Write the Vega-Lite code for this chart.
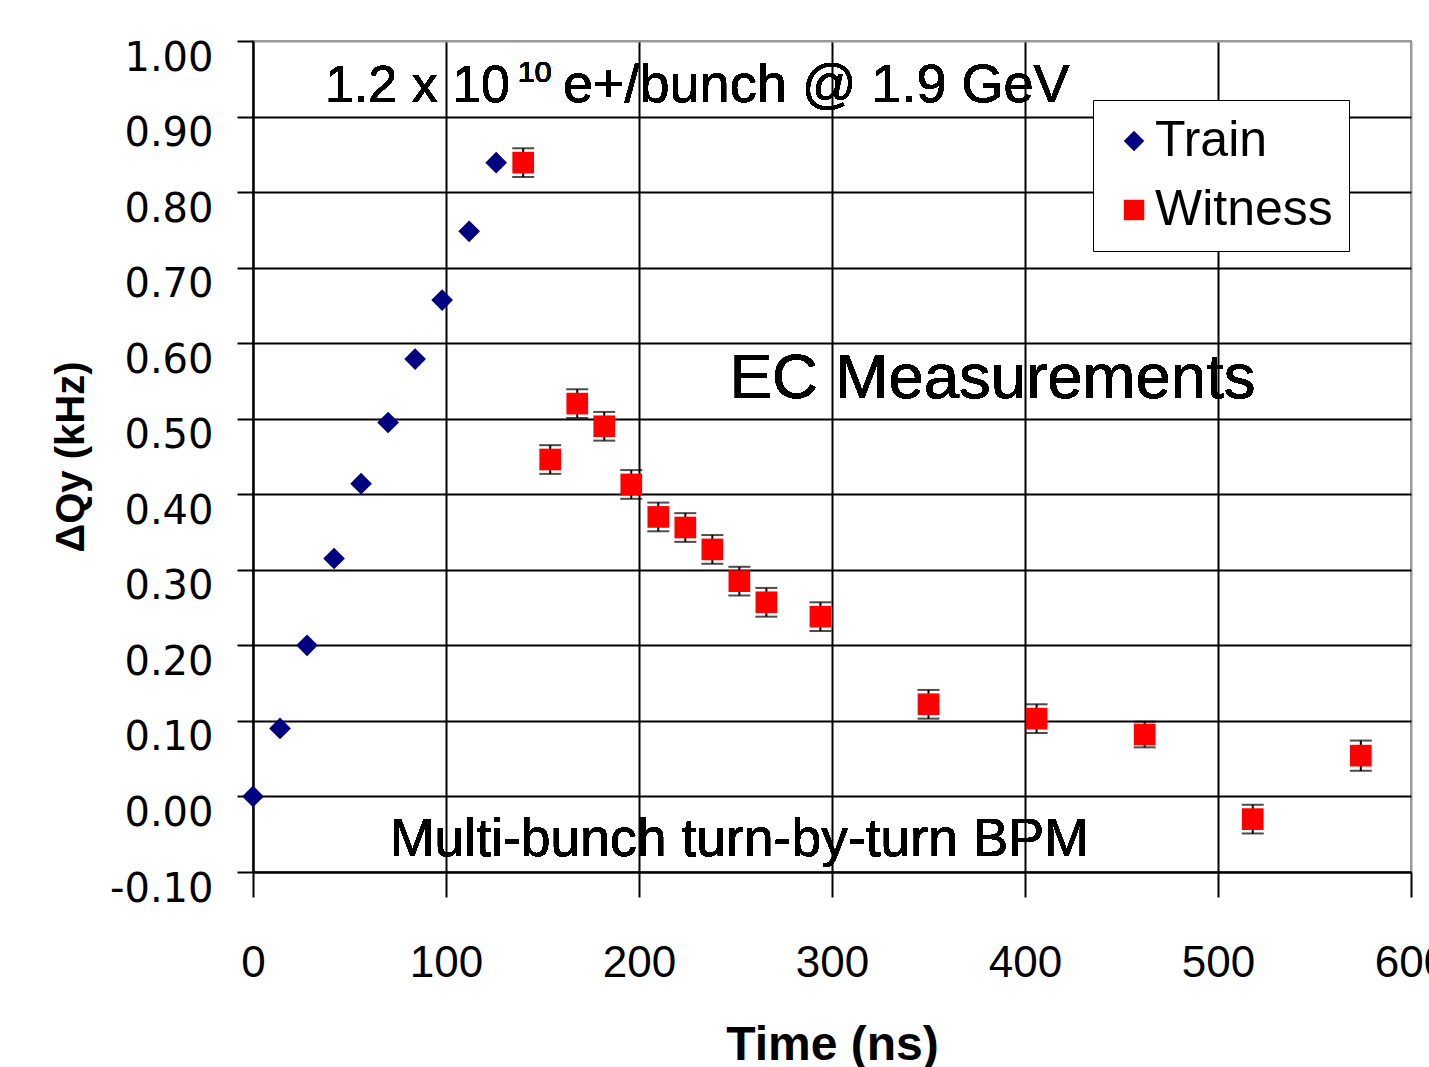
{
  "$schema": "https://vega.github.io/schema/vega-lite/v6.json",
  "width": 1158,
  "height": 831,
  "autosize": {"type": "none"},
  "padding": {"left": 253, "top": 41, "right": 18, "bottom": 195},
  "background": "white",
  "config": {
    "view": {"stroke": "#999999", "strokeWidth": 2},
    "font": "Liberation Sans"
  },
  "data": {
    "values": [
      {"series": "Train", "t": 0, "v": 0.000, "err": 0},
      {"series": "Train", "t": 14, "v": 0.090, "err": 0},
      {"series": "Train", "t": 28, "v": 0.200, "err": 0},
      {"series": "Train", "t": 42, "v": 0.315, "err": 0},
      {"series": "Train", "t": 56, "v": 0.414, "err": 0},
      {"series": "Train", "t": 70, "v": 0.495, "err": 0},
      {"series": "Train", "t": 84, "v": 0.579, "err": 0},
      {"series": "Train", "t": 98, "v": 0.657, "err": 0},
      {"series": "Train", "t": 112, "v": 0.748, "err": 0},
      {"series": "Train", "t": 126, "v": 0.839, "err": 0},
      {"series": "Witness", "t": 140, "v": 0.839, "err": 0.019},
      {"series": "Witness", "t": 154, "v": 0.446, "err": 0.019},
      {"series": "Witness", "t": 168, "v": 0.520, "err": 0.019},
      {"series": "Witness", "t": 182, "v": 0.490, "err": 0.019},
      {"series": "Witness", "t": 196, "v": 0.413, "err": 0.019},
      {"series": "Witness", "t": 210, "v": 0.370, "err": 0.019},
      {"series": "Witness", "t": 224, "v": 0.356, "err": 0.019},
      {"series": "Witness", "t": 238, "v": 0.327, "err": 0.019},
      {"series": "Witness", "t": 252, "v": 0.285, "err": 0.019},
      {"series": "Witness", "t": 266, "v": 0.257, "err": 0.019},
      {"series": "Witness", "t": 294, "v": 0.238, "err": 0.019},
      {"series": "Witness", "t": 350, "v": 0.122, "err": 0.019},
      {"series": "Witness", "t": 406, "v": 0.103, "err": 0.019},
      {"series": "Witness", "t": 462, "v": 0.082, "err": 0.017},
      {"series": "Witness", "t": 518, "v": -0.030, "err": 0.019},
      {"series": "Witness", "t": 574, "v": 0.054, "err": 0.020}
    ]
  },
  "layer": [
    {
      "transform": [{"filter": "datum.series == 'Witness'"}],
      "mark": {
        "type": "errorbar",
        "ticks": {"size": 22, "thickness": 2, "color": "black"},
        "rule": {"strokeWidth": 2, "color": "black"}
      },
      "encoding": {
        "x": {"field": "t", "type": "quantitative", "title": "Time (ns)"},
        "y": {"field": "v", "type": "quantitative", "title": "ΔQy (kHz)"},
        "yError": {"field": "err"}
      }
    },
    {
      "mark": {"type": "point", "filled": true, "opacity": 1, "size": 470},
      "encoding": {
        "x": {
          "field": "t",
          "type": "quantitative",
          "scale": {"domain": [0, 600], "nice": false, "zero": false},
          "axis": {
            "title": "Time (ns)",
            "values": [0, 100, 200, 300, 400, 500, 600],
            "grid": true,
            "gridColor": {"condition": {"test": "datum.value >= 600", "value": "#999999"}, "value": "black"},
            "gridWidth": 2,
            "domainColor": "black",
            "domainWidth": 2,
            "tickColor": "black",
            "tickWidth": 2,
            "tickSize": 25,
            "labelFont": "Liberation Sans",
            "labelFontSize": 44,
            "labelColor": "black",
            "labelPadding": 44,
            "labelFlush": false,
            "labelOverlap": false,
            "titleFont": "Liberation Sans",
            "titleFontSize": 48,
            "titleFontWeight": "bold",
            "titleColor": "black",
            "titlePadding": 36
          }
        },
        "y": {
          "field": "v",
          "type": "quantitative",
          "scale": {"domain": [-0.1, 1.0], "nice": false, "zero": false},
          "axis": {
            "title": "ΔQy (kHz)",
            "values": [-0.1, 0, 0.1, 0.2, 0.3, 0.4, 0.5, 0.6, 0.7, 0.8, 0.9, 1.0],
            "labelExpr": "replace(format(datum.value, '.2f'), '\u2212', '-')",
            "grid": true,
            "gridColor": {"condition": {"test": "datum.value >= 0.999", "value": "#999999"}, "value": "black"},
            "gridWidth": 2,
            "domainColor": "black",
            "domainWidth": 2,
            "tickColor": "black",
            "tickWidth": 2,
            "tickSize": 16,
            "labelFont": "DejaVu Sans",
            "labelFontSize": 40,
            "labelColor": "black",
            "labelPadding": 24,
            "labelOffset": 17,
            "labelFlush": false,
            "labelOverlap": false,
            "titleFont": "Liberation Sans",
            "titleFontSize": 40,
            "titleFontWeight": "bold",
            "titleColor": "black",
            "titlePadding": 18
          }
        },
        "color": {
          "field": "series",
          "type": "nominal",
          "scale": {"domain": ["Train", "Witness"], "range": ["#000080", "#ff0000"]},
          "legend": {
            "title": null,
            "orient": "none",
            "legendX": 840,
            "legendY": 59,
            "strokeColor": "black",
            "fillColor": "white",
            "padding": 16,
            "labelFont": "Liberation Sans",
            "labelFontSize": 50,
            "labelColor": "black",
            "labelOffset": -4,
            "labelLimit": 400,
            "symbolSize": 420,
            "symbolStrokeWidth": 0,
            "rowPadding": 19
          }
        },
        "shape": {
          "field": "series",
          "type": "nominal",
          "scale": {"domain": ["Train", "Witness"], "range": ["diamond", "square"]},
          "legend": null
        }
      }
    },
    {
      "mark": {"type": "text", "align": "left", "baseline": "middle", "fontSize": 52, "font": "Liberation Sans", "color": "black"},
      "encoding": {
        "x": {"datum": 37.3},
        "y": {"datum": 0.94},
        "text": {"value": "1.2 x 10"}
      }
    },
    {
      "mark": {"type": "text", "align": "left", "baseline": "middle", "fontSize": 30, "font": "Liberation Sans", "color": "black", "dx": 193, "dy": -13},
      "encoding": {
        "x": {"datum": 37.3},
        "y": {"datum": 0.94},
        "text": {"value": "10"}
      }
    },
    {
      "mark": {"type": "text", "align": "left", "baseline": "middle", "fontSize": 54, "font": "Liberation Sans", "color": "black", "dx": 238},
      "encoding": {
        "x": {"datum": 37.3},
        "y": {"datum": 0.94},
        "text": {"value": "e+/bunch @ 1.9 GeV"}
      }
    },
    {
      "mark": {"type": "text", "align": "left", "baseline": "middle", "fontSize": 63.5, "font": "Liberation Sans", "color": "black"},
      "encoding": {
        "x": {"datum": 247},
        "y": {"datum": 0.553},
        "text": {"value": "EC Measurements"}
      }
    },
    {
      "mark": {"type": "text", "align": "left", "baseline": "middle", "fontSize": 53.5, "font": "Liberation Sans", "color": "black"},
      "encoding": {
        "x": {"datum": 71},
        "y": {"datum": -0.058},
        "text": {"value": "Multi-bunch turn-by-turn BPM"}
      }
    }
  ]
}
